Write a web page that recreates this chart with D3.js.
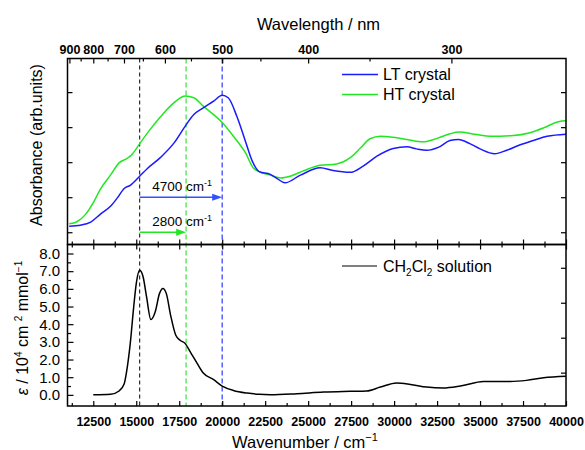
<!DOCTYPE html>
<html>
<head>
<meta charset="utf-8">
<script src="https://cdn.jsdelivr.net/npm/d3@7"></script>
<style>
  body { margin: 0; background: #fff; }
  text { font-family: "Liberation Sans", Arial, sans-serif; fill: #000; }
</style>
</head>
<body>
<svg id="chart" width="585" height="450"></svg>
<script>
// LT crystal (blue): wavenumber / cm-1 and absorbance (arb. units)
const ltWn = [11100, 11750, 12350, 12900, 13500, 13900, 14300, 14650, 15200, 15650,
  16400, 17200, 17850, 18350, 18900, 19500, 20000, 20350, 20850, 21350,
  21750, 22150, 22800, 23200, 23650, 24550, 25700, 26450, 27450, 28200,
  29000, 29950, 30750, 31300, 31900, 32600, 33250, 33750, 34400, 35000,
  35850, 36550, 37300, 38100, 38900, 40000];
const ltAbs = [0.17, 0.20, 0.29, 0.51, 0.74, 0.98, 1.25, 1.34, 1.60, 1.82,
  2.13, 2.55, 3.03, 3.36, 3.55, 3.74, 3.91, 3.84, 3.31, 2.60,
  2.03, 1.73, 1.65, 1.53, 1.41, 1.63, 1.84, 1.76, 1.71, 1.89,
  2.17, 2.39, 2.44, 2.38, 2.34, 2.43, 2.62, 2.65, 2.53, 2.38,
  2.24, 2.34, 2.49, 2.62, 2.74, 2.80];

// HT crystal (green)
const htWn = [11100, 11550, 12050, 12550, 12900, 13500, 14000, 14450, 14750, 15200,
  15800, 16400, 17200, 17850, 18350, 18900, 20000, 20650, 21350, 21800,
  22150, 22800, 23400, 23950, 24750, 25700, 26650, 27450, 28050, 28600,
  29200, 29950, 30750, 31700, 32500, 33250, 33750, 34800, 35600, 36950,
  37900, 38700, 39450, 40000];
const htAbs = [0.24, 0.30, 0.51, 0.89, 1.22, 1.63, 1.98, 2.10, 2.22, 2.53,
  2.93, 3.29, 3.70, 3.89, 3.84, 3.60, 3.13, 2.74, 2.27, 1.84,
  1.73, 1.63, 1.55, 1.60, 1.76, 1.91, 1.95, 2.13, 2.41, 2.67,
  2.74, 2.71, 2.65, 2.58, 2.68, 2.81, 2.86, 2.79, 2.74, 2.76,
  2.84, 2.98, 3.14, 3.19];

// CH2Cl2 solution: epsilon / 10^4 cm2 mmol-1
const solWn = [12500, 13500, 14000, 14300, 14450, 14650, 14850, 15000, 15200, 15400,
  15600, 15850, 16100, 16350, 16550, 16750, 17000, 17300, 17550, 17850,
  18150, 18550, 18900, 19500, 20000, 20650, 21450, 22150, 22800, 24350,
  25900, 27450, 28400, 29200, 30150, 30950, 31900, 32850, 33850, 35200,
  36750, 37700, 38700, 40000];
const solEps = [0.0, 0.03, 0.22, 0.63, 1.39, 2.90, 4.97, 6.30, 7.05, 6.67,
  5.54, 4.26, 4.69, 5.73, 6.02, 5.73, 4.50, 3.37, 3.09, 2.90,
  2.42, 1.77, 1.24, 0.86, 0.50, 0.25, 0.10, 0.03, 0.01, 0.07,
  0.16, 0.20, 0.22, 0.44, 0.67, 0.59, 0.44, 0.39, 0.50, 0.76,
  0.76, 0.82, 0.97, 1.05];

// ticks
const wnTicks = [12500, 15000, 17500, 20000, 22500, 25000, 27500, 30000, 32500, 35000, 37500, 40000];
const wnMinor = [11250, 13750, 16250, 18750, 21250, 23750, 26250, 28750, 31250, 33750, 36250, 38750];
const nmTicks = [900, 800, 700, 600, 500, 400, 300];
const nmMinor = [850, 750, 650, 550, 450, 350];
const absTicks = [0, 1, 2, 3, 4];
const epsTicks = [0, 1, 2, 3, 4, 5, 6, 7, 8];
const epsMinor = [0.5, 1.5, 2.5, 3.5, 4.5, 5.5, 6.5, 7.5];
const rightTicks = [1, 2, 3, 4];

// marker lines and shifts
const markWn = [15200, 17900, 20000];
const markColor = ['#000', '#55e855', '#4d55ff'];
const shiftEnd = [20000, 17900];
const shiftLevel = [1.0, 0.0];
const shiftLabel = ['4700', '2800'];

const L = 67.5, R = 566, T = 58.5, M = 244.5, B = 406;
const svg = d3.select('#chart');

const x = d3.scaleLinear().domain([11000, 40000]).range([L, R]);
const yTop = d3.scaleLinear().domain([-0.35, 4.96]).range([M, T]);
const yBot = d3.scaleLinear().domain([-0.63, 8.51]).range([B, M]);
const yRight = d3.scaleLinear().domain([0.046, 4.666]).range([B, M]);

// dashed marker lines
svg.append('g').selectAll('line').data(markWn).enter().append('line')
  .attr('x1', d => x(d)).attr('x2', d => x(d))
  .attr('y1', T).attr('y2', B)
  .attr('stroke', (d, i) => markColor[i])
  .attr('stroke-width', (d, i) => i === 0 ? 1 : 1.4)
  .attr('stroke-dasharray', (d, i) => i === 0 ? '4,3' : '5,3');

// curves
const line = d3.line().curve(d3.curveMonotoneX);
function drawCurve(xs, ys, yScale, color) {
  svg.append('path')
    .attr('d', line(xs.map((w, i) => [x(w), yScale(ys[i])])))
    .attr('fill', 'none').attr('stroke', color).attr('stroke-width', 1.5);
}
drawCurve(htWn, htAbs, yTop, '#22e622');
drawCurve(ltWn, ltAbs, yTop, '#1a1aff');
drawCurve(solWn, solEps, yBot, '#000');

// shift arrows
const arrowColor = ['#3350ff', '#22e622'];
shiftEnd.forEach(function (end, i) {
  const y0 = yTop(shiftLevel[i]);
  const x0 = x(markWn[0]), x1 = x(end);
  svg.append('line').attr('x1', x0).attr('x2', x1 - 6).attr('y1', y0).attr('y2', y0)
    .attr('stroke', arrowColor[i]).attr('stroke-width', 1.5);
  svg.append('path')
    .attr('d', 'M' + x1 + ',' + y0 + 'L' + (x1 - 10) + ',' + (y0 - 3.5) + 'L' + (x1 - 10) + ',' + (y0 + 3.5) + 'Z')
    .attr('fill', arrowColor[i]);
  const t = svg.append('text').attr('x', x(markWn[0]) + 12.5)
    .attr('y', y0 - (i === 0 ? 6 : -6.5 - 0) - (i === 1 ? 13.2 : 0))
    .style('font-size', '13.5px');
  t.append('tspan').text(shiftLabel[i] + ' cm');
  t.append('tspan').attr('dy', -5).style('font-size', '9px').text('-1');
});

// frames
[[T, M], [M, B]].forEach(function (p) {
  svg.append('rect').attr('x', L).attr('y', p[0]).attr('width', R - L).attr('height', p[1] - p[0])
    .attr('fill', 'none').attr('stroke', '#000').attr('stroke-width', 1.5);
});

function styleAxis(g) {
  g.select('.domain').remove();
  g.selectAll('.tick line').attr('stroke', '#000').attr('stroke-width', 1.2);
  g.attr('font-family', null).attr('font-size', null);
}

// bottom wavenumber axis
svg.append('g').attr('transform', 'translate(0,' + B + ')')
  .call(d3.axisBottom(x).tickValues(wnTicks).tickSize(-5).tickPadding(11).tickFormat(d3.format('d')))
  .call(styleAxis)
  .selectAll('text').style('font-size', '12.5px').style('font-weight', 'bold');
svg.append('g').attr('transform', 'translate(0,' + B + ')')
  .call(d3.axisBottom(x).tickValues(wnMinor).tickSize(-3).tickFormat(''))
  .call(styleAxis);

// shared middle edge ticks
[[d3.axisBottom, -5, wnTicks], [d3.axisBottom, -3, wnMinor], [d3.axisTop, -5, wnTicks], [d3.axisTop, -3, wnMinor]]
  .forEach(function (a) {
    svg.append('g').attr('transform', 'translate(0,' + M + ')')
      .call(a[0](x).tickValues(a[2]).tickSize(a[1]).tickFormat(''))
      .call(styleAxis);
  });

// top wavelength axis
svg.append('g').attr('transform', 'translate(0,' + T + ')')
  .call(d3.axisTop(x).tickValues(nmTicks.map(l => 1e7 / l)).tickSize(-5).tickPadding(4.5)
    .tickFormat(w => Math.round(1e7 / w)))
  .call(styleAxis)
  .selectAll('text').style('font-size', '12.5px').style('font-weight', 'bold');
svg.append('g').attr('transform', 'translate(0,' + T + ')')
  .call(d3.axisTop(x).tickValues(nmMinor.map(l => 1e7 / l)).tickSize(-3).tickFormat(''))
  .call(styleAxis);

// top panel y ticks
svg.append('g').attr('transform', 'translate(' + L + ',0)')
  .call(d3.axisLeft(yTop).tickValues(absTicks).tickSize(-5).tickFormat(''))
  .call(styleAxis);
svg.append('g').attr('transform', 'translate(' + R + ',0)')
  .call(d3.axisRight(yTop).tickValues(absTicks).tickSize(-5).tickFormat(''))
  .call(styleAxis);

// bottom panel y axis
svg.append('g').attr('transform', 'translate(' + L + ',0)')
  .call(d3.axisLeft(yBot).tickValues(epsTicks).tickSize(-6).tickPadding(7.5).tickFormat(d3.format('.1f')))
  .call(styleAxis)
  .selectAll('text').style('font-size', '15px');
svg.append('g').attr('transform', 'translate(' + L + ',0)')
  .call(d3.axisLeft(yBot).tickValues(epsMinor).tickSize(-3.5).tickFormat(''))
  .call(styleAxis);
svg.append('g').attr('transform', 'translate(' + R + ',0)')
  .call(d3.axisRight(yRight).tickValues(rightTicks).tickSize(-5).tickFormat(''))
  .call(styleAxis);

// axis titles
svg.append('text').attr('x', 318.5).attr('y', 30).attr('text-anchor', 'middle')
  .style('font-size', '16.5px').text('Wavelength / nm');

const xt = svg.append('text').attr('x', 305).attr('y', 448).attr('text-anchor', 'middle')
  .style('font-size', '16.5px');
xt.append('tspan').text('Wavenumber / cm');
xt.append('tspan').attr('dy', -7).style('font-size', '11px').text('\u22121');

svg.append('text').attr('transform', 'translate(42,145) rotate(-90)').attr('text-anchor', 'middle')
  .style('font-size', '16px').text('Absorbance (arb.units)');

const yt = svg.append('text').attr('transform', 'translate(28,328) rotate(-90)').attr('text-anchor', 'middle')
  .style('font-size', '16px');
yt.append('tspan').style('font-style', 'italic').text('\u03b5');
yt.append('tspan').text(' / 10');
yt.append('tspan').attr('dy', -6).style('font-size', '10px').text('4');
yt.append('tspan').attr('dy', 6).text(' cm ');
yt.append('tspan').attr('dy', -6).style('font-size', '10px').text('2');
yt.append('tspan').attr('dy', 6).text(' mmol');
yt.append('tspan').attr('dy', -6).style('font-size', '10px').text('\u22121');

// legends
const legendNames = ['LT crystal', 'HT crystal'];
const legendColors = ['#1a1aff', '#22e622'];
const legendY = [74.5, 94.5];
legendNames.forEach(function (n, i) {
  svg.append('line').attr('x1', 342).attr('x2', 378).attr('y1', legendY[i]).attr('y2', legendY[i])
    .attr('stroke', legendColors[i]).attr('stroke-width', 1.5);
  svg.append('text').attr('x', 383).attr('y', legendY[i] + 5.7).style('font-size', '16px').text(n);
});

svg.append('line').attr('x1', 342).attr('x2', 377).attr('y1', 266).attr('y2', 266)
  .attr('stroke', '#000').attr('stroke-width', 1.2);
const sl = svg.append('text').attr('x', 383).attr('y', 272.3).style('font-size', '16px');
sl.append('tspan').text('CH');
sl.append('tspan').attr('dy', 4).style('font-size', '10px').text('2');
sl.append('tspan').attr('dy', -4).text('Cl');
sl.append('tspan').attr('dy', 4).style('font-size', '10px').text('2');
sl.append('tspan').attr('dy', -4).text(' solution');
</script>
</body>
</html>
